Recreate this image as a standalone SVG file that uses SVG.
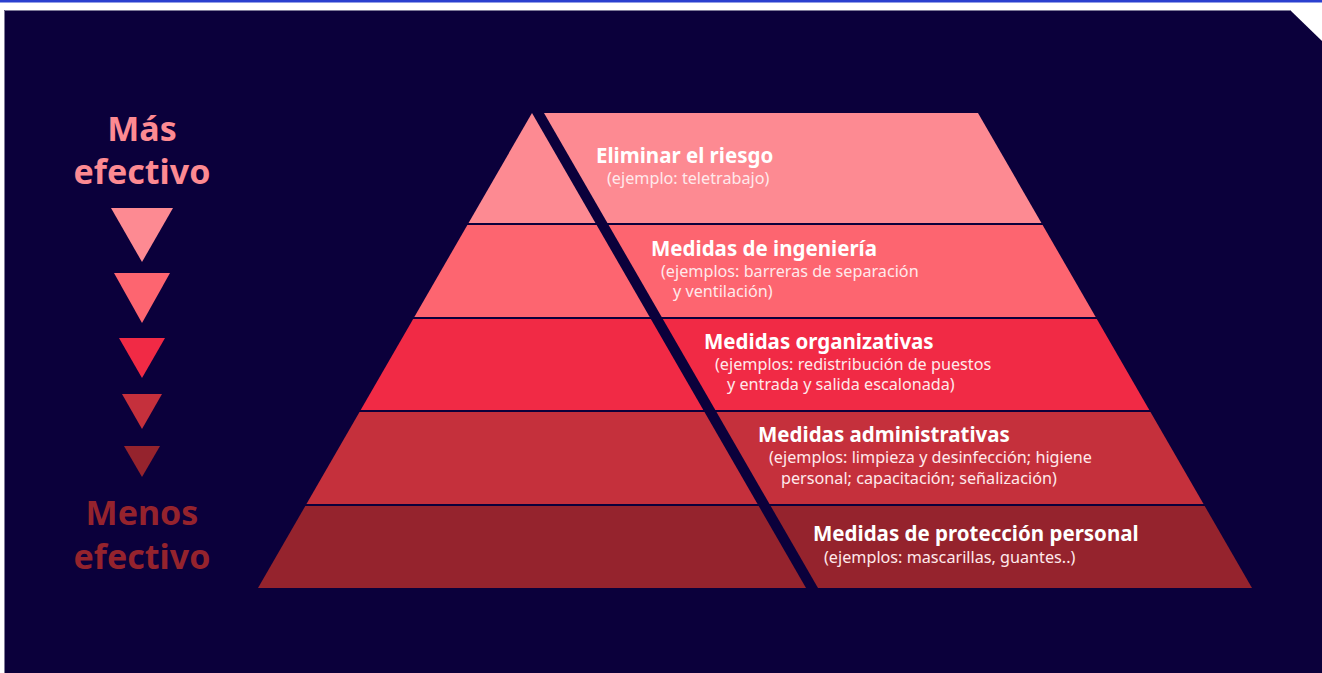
<svg xmlns="http://www.w3.org/2000/svg" width="1322" height="673" viewBox="0 0 1322 673">
  <style>
    .title { font-family: "Noto Sans", "Liberation Sans", sans-serif; font-weight: 700; font-size: 20.5px; fill: #ffffff; }
    .sub { font-family: "Noto Sans", "Liberation Sans", sans-serif; font-weight: 400; font-size: 16.2px; fill: #ffe9eb; }
    .side { font-family: "Noto Sans", "Liberation Sans", sans-serif; font-weight: 700; font-size: 34px; text-anchor: middle; }
    .edge { stroke: #7e7a98; stroke-width: 1; fill: none; }
    .c1 { fill: #fd8a92; }
    .c2 { fill: #fd6570; }
    .c3 { fill: #f12a45; }
    .c4 { fill: #c5303c; }
    .c5 { fill: #95232d; }
  </style>
  <rect x="0" y="0" width="1322" height="673" fill="#ffffff"/>
  <rect x="0" y="0" width="1322" height="2.5" fill="#2b40cf"/>
  <polygon points="4,10 1290,10 1322,41 1322,673 4,673" fill="#0b003b"/>
  <polyline class="edge" points="4.5,673 4.5,10.5 1290,10.5"/>

  <g id="scale-labels">
    <text class="side c1" x="142" y="141">Más</text>
    <text class="side c1" x="142" y="184">efectivo</text>
    <text class="side c5" x="142" y="525">Menos</text>
    <text class="side c5" x="142" y="569">efectivo</text>
  </g>
  <g id="scale-arrows">
    <polygon class="c1" points="111,208 173,208 142,262"/>
    <polygon class="c2" points="114,273 170,273 142,323"/>
    <polygon class="c3" points="119,338 165,338 142,378"/>
    <polygon class="c4" points="122,394 162,394 142,429"/>
    <polygon class="c5" points="124,446 160,446 142,477"/>
  </g>

  <g id="band-eliminar">
    <polygon class="c1" points="532,113 468.55,223 595.45,223"/>
    <polygon class="c1" points="544,113 978,113 1041.45,223 607.45,223"/>
    <text class="title" x="596" y="163">Eliminar el riesgo</text>
    <text class="sub" x="607" y="184">(ejemplo: teletrabajo)</text>
  </g>
  <g id="band-ingenieria">
    <polygon class="c2" points="467.39,225 596.61,225 649.68,317 414.32,317"/>
    <polygon class="c2" points="608.61,225 1042.61,225 1095.68,317 661.68,317"/>
    <text class="title" x="651" y="256">Medidas de ingeniería</text>
    <text class="sub" x="661" y="277">(ejemplos: barreras de separación</text>
    <text class="sub" x="673" y="297">y ventilación)</text>
  </g>
  <g id="band-organizativas">
    <polygon class="c3" points="413.17,319 650.83,319 703.32,410 360.68,410"/>
    <polygon class="c3" points="662.83,319 1096.83,319 1149.32,410 715.32,410"/>
    <text class="title" x="704" y="349">Medidas organizativas</text>
    <text class="sub" x="715" y="370">(ejemplos: redistribución de puestos</text>
    <text class="sub" x="727" y="390">y entrada y salida escalonada)</text>
  </g>
  <g id="band-administrativas">
    <polygon class="c4" points="359.52,412 704.48,412 757.54,504 306.46,504"/>
    <polygon class="c4" points="716.48,412 1150.48,412 1203.54,504 769.54,504"/>
    <text class="title" x="758" y="442">Medidas administrativas</text>
    <text class="sub" x="769" y="463">(ejemplos: limpieza y desinfección; higiene</text>
    <text class="sub" x="781" y="484">personal; capacitación; señalización)</text>
  </g>
  <g id="band-proteccion">
    <polygon class="c5" points="305.30,506 758.70,506 806,588 258,588"/>
    <polygon class="c5" points="770.70,506 1204.70,506 1252,588 818,588"/>
    <text class="title" x="813" y="541">Medidas de protección personal</text>
    <text class="sub" x="824" y="563">(ejemplos: mascarillas, guantes..)</text>
  </g>
</svg>
